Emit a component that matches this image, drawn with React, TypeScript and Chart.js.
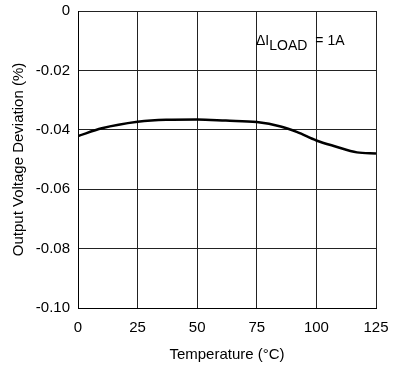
import React, { useEffect, useRef } from "react";
import { Chart, registerables } from "chart.js";

Chart.register(...registerables);

const temperatures = [0, 10, 25, 37, 50, 62, 75, 85, 92, 100, 108, 117, 125];
const deviation = [-0.0421, -0.0395, -0.0373, -0.0366, -0.0365, -0.0369, -0.0374, -0.0389, -0.0408, -0.0436, -0.0456, -0.0476, -0.048];
const xTicks = [0, 25, 50, 75, 100, 125];
const yTicks = [0, -0.02, -0.04, -0.06, -0.08, -0.1];

const FONT = "'Liberation Sans', Arial, sans-serif";

const annotationPlugin = {
  id: "annot",
  afterDraw(chart: any) {
    const { ctx } = chart;
    ctx.save();
    ctx.fillStyle = "#000";
    ctx.textBaseline = "alphabetic";
    ctx.textAlign = "left";
    ctx.font = `14px ${FONT}`;
    let cx = 256;
    const base = 45;
    ctx.fillText("\u0394I", cx, base);
    cx += ctx.measureText("\u0394I").width;
    ctx.fillText("LOAD", cx, base + 5);
    cx += ctx.measureText("LOAD").width + 8;
    ctx.fillText("= 1A", cx, base);
    ctx.restore();
  },
};

export default function App() {
  const ref = useRef<HTMLCanvasElement>(null);
  useEffect(() => {
    document.body.style.margin = "0";
    const chart = new Chart(ref.current!, {
      type: "line",
      data: {
        datasets: [
          {
            data: temperatures.map((t, i) => ({ x: t, y: deviation[i] })),
            borderColor: "#000",
            borderWidth: 2.5,
            pointRadius: 0,
            cubicInterpolationMode: "monotone",
            fill: false,
          },
        ],
      },
      options: {
        animation: false,
        responsive: false,
        maintainAspectRatio: false,
        layout: { padding: { left: 0, right: 24, top: 11, bottom: 0 } },
        plugins: { legend: { display: false }, tooltip: { enabled: false } },
        scales: {
          x: {
            type: "linear",
            min: 0,
            max: 125,
            afterBuildTicks: (s: any) => {
              s.ticks = xTicks.map((v) => ({ value: v }));
            },
            afterFit: (s: any) => {
              s.height = 57;
            },
            grid: { color: "#222", lineWidth: 1, drawTicks: false },
            border: { color: "#000", width: 1 },
            ticks: {
              color: "#000",
              font: { family: FONT, size: 15 },
              padding: 11,
              maxRotation: 0,
              callback: (v: any) => String(v),
            },
            title: {
              display: true,
              text: "Temperature (\u00b0C)",
              color: "#000",
              font: { family: FONT, size: 15 },
              padding: { top: 0, bottom: 1 },
            },
          },
          y: {
            type: "linear",
            min: -0.1,
            max: 0,
            afterBuildTicks: (s: any) => {
              s.ticks = yTicks.map((v) => ({ value: v }));
            },
            afterFit: (s: any) => {
              s.width = 78;
              s.paddingTop = 0;
              s.paddingBottom = 0;
            },
            grid: { color: "#222", lineWidth: 1, drawTicks: false },
            border: { color: "#000", width: 1 },
            ticks: {
              color: "#000",
              font: { family: FONT, size: 15 },
              padding: 8,
              callback: (v: any) => {
                const r = Math.round(Number(v) * 100) / 100;
                return r === 0 ? "0" : r.toFixed(2);
              },
            },
            title: {
              display: true,
              text: "Output Voltage Deviation (%)",
              color: "#000",
              font: { family: FONT, size: 15 },
              padding: { top: 10, bottom: 0 },
            },
          },
        },
      },
      plugins: [annotationPlugin],
    } as any);
    return () => chart.destroy();
  }, []);
  return (
    <div style={{ width: 400, height: 365 }}>
      <canvas ref={ref} width={400} height={365} style={{ display: "block" }} />
    </div>
  );
}
